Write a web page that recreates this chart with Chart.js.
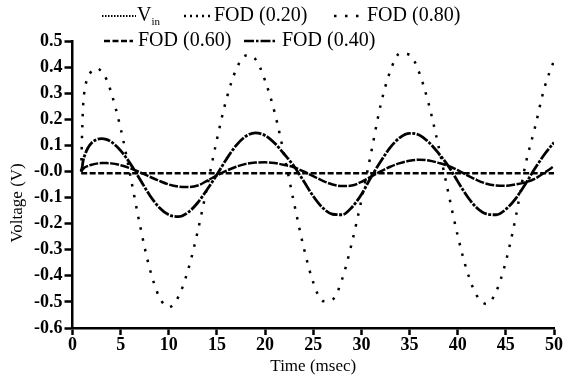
<!DOCTYPE html>
<html><head><meta charset="utf-8">
<script src="https://cdn.jsdelivr.net/npm/chart.js@4/dist/chart.umd.min.js"></script>
<style>html,body{margin:0;padding:0;background:#fff}#wrap{width:563px;height:377px;position:relative}</style>
</head><body><div id="wrap"><canvas id="c"></canvas></div>
<script>
// Time (msec)
const timeMs = [0.9, 1, 1.1, 1.3, 1.6, 2, 2.5, 3, 3.5, 4,
  5, 6, 7, 8, 9, 10, 11, 12, 13, 14, 15, 16, 17, 18, 19, 20,
  21, 22, 23, 24, 25, 26, 27, 28, 29, 30, 31, 32, 33, 34, 35,
  36, 37, 38, 39, 40, 41, 42, 43, 44, 45, 46, 47, 48, 49, 50];
// FOD (0.80) - large sparse dotted curve
const fod080 = [0.0, 0.15, 0.25, 0.32, 0.36, 0.385, 0.395, 0.384, 0.355, 0.305,
  0.165, -0.015, -0.205, -0.37, -0.48, -0.52, -0.48, -0.378, -0.23, -0.055, 0.123, 0.279, 0.391, 0.444, 0.43, 0.348,
  0.225, 0.06, -0.12, -0.29, -0.425, -0.497, -0.491, -0.413, -0.275, -0.11, 0.07, 0.255, 0.385, 0.452, 0.447,
  0.379, 0.257, 0.098, -0.077, -0.246, -0.385, -0.477, -0.508, -0.46, -0.345, -0.18, 0.02, 0.165, 0.32, 0.425];
// FOD (0.40) - medium curve
const fod040 = [0.0, 0.015, 0.04, 0.065, 0.09, 0.11, 0.122, 0.126, 0.123, 0.114,
  0.08, 0.03, -0.03, -0.09, -0.138, -0.166, -0.173, -0.157, -0.12, -0.068, -0.012, 0.048, 0.1, 0.135, 0.148, 0.138,
  0.108, 0.066, 0.02, -0.037, -0.095, -0.14, -0.164, -0.166, -0.138, -0.088, -0.022, 0.038, 0.092, 0.13, 0.146,
  0.14, 0.112, 0.07, 0.022, -0.038, -0.096, -0.14, -0.163, -0.166, -0.145, -0.105, -0.05, 0.01, 0.065, 0.111];
// FOD (0.20) - small curve
const fod020 = [0.0, 0.005, 0.01, 0.016, 0.021, 0.026, 0.03, 0.032, 0.032, 0.031,
  0.024, 0.012, -0.003, -0.02, -0.036, -0.05, -0.058, -0.06, -0.054, -0.035, -0.015, 0.003, 0.018, 0.029, 0.034, 0.035,
  0.032, 0.025, 0.016, 0.0, -0.018, -0.036, -0.05, -0.056, -0.054, -0.04, -0.02, 0.0, 0.018, 0.032, 0.041,
  0.045, 0.042, 0.033, 0.022, 0.005, -0.015, -0.033, -0.047, -0.054, -0.055, -0.05, -0.042, -0.028, -0.005, 0.02];
// FOD (0.60) - flat dashed line
const flatTime = [0.9, 50];
const fod060 = [-0.007, -0.007];
// V_in (not separately visible)
const vinTime = [];
const vin = [];

const seriesNames = ['V', 'FOD (0.20)', 'FOD (0.80)', 'FOD (0.60)', 'FOD (0.40)'];

function pts(xs, ys){ return xs.map((x,i)=>({x:x, y:ys[i]})); }

const SERIF = '"Liberation Serif", "Times New Roman", serif';

const styles = {
  vin:   [1.5, 1.5],
  f020:  [2, 4],
  f080:  [2.5, 8.5],
  f060:  [6, 2.5],
  f040:  [10, 2, 2.5, 2]
};

const legendPlugin = {
  id: 'customLegend',
  afterDraw(chart){
    const ctx = chart.ctx;
    ctx.save();
    ctx.fillStyle = '#000';
    ctx.strokeStyle = '#000';
    const items = [
      {x0:102, x1:136, y:16, dash:styles.vin, w:2, text:'V', sub:'in', tx:137},
      {x0:184, x1:212, y:16, dash:styles.f020, w:2.5, text:seriesNames[1], tx:214},
      {x0:334, x1:365, y:16, dash:styles.f080, w:2.5, text:seriesNames[2], tx:367},
      {x0:104, x1:133, y:41, dash:styles.f060, w:2.5, text:seriesNames[3], tx:138},
      {x0:244, x1:276, y:41, dash:styles.f040, w:2.5, text:seriesNames[4], tx:282}
    ];
    items.forEach(it=>{
      ctx.beginPath();
      ctx.setLineDash(it.dash);
      ctx.lineWidth = it.w;
      ctx.moveTo(it.x0, it.y);
      ctx.lineTo(it.x1, it.y);
      ctx.stroke();
      ctx.setLineDash([]);
      ctx.font = '20px ' + SERIF;
      ctx.textBaseline = 'middle';
      ctx.textAlign = 'left';
      ctx.fillText(it.text, it.tx, it.y);
      if (it.sub){
        const w = ctx.measureText(it.text).width;
        ctx.font = '11px ' + SERIF;
        ctx.fillText(it.sub, it.tx + w, it.y + 6);
      }
    });
    // y-axis title
    ctx.translate(18, 203);
    ctx.rotate(-Math.PI/2);
    ctx.font = '17px ' + SERIF;
    ctx.textAlign = 'center';
    ctx.textBaseline = 'middle';
    ctx.fillText('Voltage (V)', 0, 0);
    ctx.restore();
  }
};

const common = {pointRadius:0, borderColor:'#000', backgroundColor:'#000', fill:false, cubicInterpolationMode:'monotone', borderCapStyle:'butt'};

new Chart(document.getElementById('c'), {
  type: 'line',
  data: {
    datasets: [
      Object.assign({label:'V_in', data:pts(vinTime, vin), borderWidth:2, borderDash:styles.vin}, common),
      Object.assign({label:seriesNames[1], data:pts(timeMs, fod020), borderWidth:2.5, borderDash:[9, 1.5]}, common),
      Object.assign({label:seriesNames[2], data:pts(timeMs, fod080), borderWidth:2.5, borderDash:styles.f080}, common),
      Object.assign({label:seriesNames[3], data:pts(flatTime, fod060), borderWidth:2.5, borderDash:styles.f060}, common),
      Object.assign({label:seriesNames[4], data:pts(timeMs, fod040), borderWidth:2.8, borderDash:[13, 1.5, 3, 1.5]}, common)
    ]
  },
  options: {
    responsive: true,
    maintainAspectRatio: false,
    animation: false,
    devicePixelRatio: 1,
    layout: {padding: {left: 32, top: 41, right: 0, bottom: 0}},
    plugins: {legend: {display:false}, tooltip: {enabled:false}},
    scales: {
      x: {
        type: 'linear', min: 0, max: 50,
        ticks: {stepSize: 5, color:'#000', font:{family:SERIF, size:18, weight:'bold'}, padding: 0, maxRotation:0},
        grid: {drawOnChartArea:false, drawTicks:true, tickLength:7, tickColor:'#000', tickWidth:2.5},
        border: {display:true, color:'#000', width:2.5},
        title: {display:true, text:'Time (msec)', color:'#000', font:{family:SERIF, size:17}, padding:{top:0, bottom:0}}
      },
      y: {
        min: -0.6, max: 0.5,
        ticks: {stepSize: 0.1, color:'#000', font:{family:SERIF, size:18, weight:'bold'}, padding: 2,
          callback: v => (Math.abs(v) < 1e-9 ? '-0.0' : Number(v).toFixed(1))},
        grid: {drawOnChartArea:false, drawTicks:true, tickLength:8, tickColor:'#000', tickWidth:2.5},
        border: {display:true, color:'#000', width:2.5}
      }
    }
  },
  plugins: [legendPlugin]
});
</script>
</body></html>
